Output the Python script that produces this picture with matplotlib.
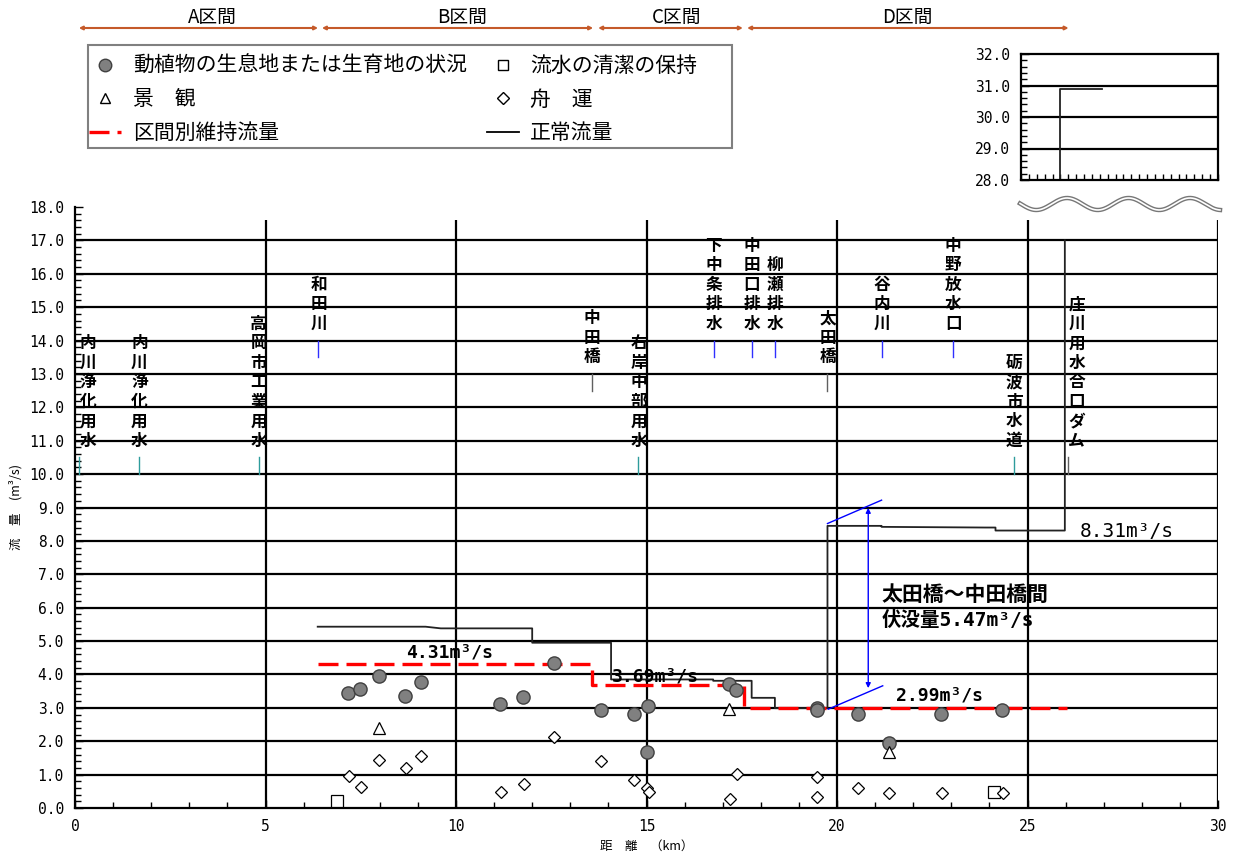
import numpy as np
import matplotlib.pyplot as plt
from matplotlib.lines import Line2D
from matplotlib.patches import Rectangle
from matplotlib.ticker import MultipleLocator, FormatStrFormatter

plt.rcParams['font.family'] = ['Noto Sans CJK JP', 'DejaVu Sans']
MONO = ['DejaVu Sans Mono', 'Noto Sans CJK JP']

# 区間
sec_names = ['A区間', 'B区間', 'C区間', 'D区間']
sec_start = [0.1, 6.48, 13.73, 17.64]
sec_end = [6.38, 13.6, 17.53, 26.08]
sec_label_x = [3.6, 10.16, 15.8, 21.84]

# 正常流量
nf_km = [6.37, 9.2, 9.6, 12.0, 12.0, 14.07, 14.07, 16.75, 16.75, 17.76, 17.76,
         18.37, 18.37, 19.75, 19.75, 21.17, 21.17, 23.9, 24.16, 24.16, 25.98, 25.98]
nf_q = [5.43, 5.43, 5.38, 5.38, 4.95, 4.95, 3.85, 3.85, 3.81, 3.81, 3.30,
        3.30, 2.99, 2.99, 8.45, 8.45, 8.42, 8.40, 8.40, 8.31, 8.31, 17.0]
nf_top_km = [26.0, 26.0, 27.05]
nf_top_q = [28.0, 30.9, 30.9]

# 区間別維持流量
mf_km = [6.37, 13.58, 13.58, 17.55, 17.55, 26.03]
mf_q = [4.31, 4.31, 3.69, 3.69, 2.99, 2.99]

# 動植物の生息地または生育地の状況
eco_km = [7.17, 7.48, 7.99, 8.66, 9.07, 11.15, 11.77, 12.57, 13.81, 14.67, 15.05,
          15.0, 17.17, 17.34, 19.47, 19.47, 20.55, 21.36, 22.74, 24.33]
eco_q = [3.44, 3.55, 3.94, 3.35, 3.76, 3.12, 3.31, 4.35, 2.94, 2.82, 3.04,
         1.67, 3.70, 3.53, 2.99, 2.95, 2.83, 1.94, 2.83, 2.95]
# 景観
view_km = [7.99, 17.17, 21.36]
view_q = [2.39, 2.98, 1.69]
# 舟運
boat_km = [7.19, 7.5, 7.99, 8.68, 9.08, 11.17, 11.79, 12.58, 13.81, 14.67, 15.0,
           15.07, 17.19, 17.37, 19.47, 19.47, 20.56, 21.36, 22.75, 24.35]
boat_q = [0.96, 0.62, 1.45, 1.21, 1.56, 0.47, 0.73, 2.12, 1.42, 0.84, 0.61,
          0.47, 0.26, 1.01, 0.92, 0.34, 0.59, 0.44, 0.44, 0.44]
# 流水の清潔の保持
clean_km = [6.87, 24.13]
clean_q = [0.22, 0.49]

# 地点
st_names = ['内川浄化用水', '内川浄化用水', '高岡市工業用水', '和田川', '中田橋', '右岸中部用水',
            '下中条排水', '中田口排水', '柳瀬排水', '太田橋', '谷内川', '中野放水口',
            '砺波市水道', '庄川用水合口ダム']
st_km = [0.1, 1.69, 4.82, 6.39, 13.56, 14.79, 16.77, 17.76, 18.37, 19.75, 21.17,
         23.05, 24.65, 26.05]
st_base = [10.0, 10.0, 10.0, 13.5, 12.5, 10.0, 13.5, 13.5, 13.5, 12.5, 13.5, 13.5, 10.0, 10.0]
st_kind = ['w', 'w', 'w', 'r', 'b', 'w', 'r', 'r', 'r', 'b', 'r', 'r', 'w', 'b']
st_dx = [0.24, 0, 0, 0, 0, 0, 0, 0, 0, 0, 0, 0, 0, 0.24]
kind_col = {'w': '#2e9c9c', 'r': '#3030ff', 'b': '#606060'}

flow_labels = ['4.31m³/s', '3.69m³/s', '2.99m³/s']
flow_label_km = [9.84, 15.22, 22.7]
flow_label_q = [4.67, 3.95, 3.38]

W, H = 1233, 857
fig = plt.figure(figsize=(W / 100, H / 100), dpi=100)
ax = fig.add_axes([75 / W, 49 / H, 1143 / W, 601 / H])

ax.set_xlim(0, 30)
ax.set_ylim(0, 18)
for s in ['top', 'right']:
    ax.spines[s].set_visible(False)
for s in ['left', 'bottom']:
    ax.spines[s].set_linewidth(1.6)

ax.hlines(np.arange(1, 18), 0, 30, color='black', lw=1.6, zorder=1)
ax.vlines([5, 10, 15, 20, 25, 30], 0, 17.6, color='black', lw=1.6, zorder=1)

ax.yaxis.set_major_locator(MultipleLocator(1))
ax.yaxis.set_minor_locator(MultipleLocator(0.2))
ax.yaxis.set_major_formatter(FormatStrFormatter('%.1f'))
ax.xaxis.set_major_locator(MultipleLocator(5))
ax.xaxis.set_minor_locator(MultipleLocator(1))
ax.tick_params(which='both', direction='in', width=1)
ax.tick_params(which='major', length=6, labelsize=10.5, pad=8)
ax.tick_params(which='minor', length=4)
for lb in ax.get_yticklabels() + ax.get_xticklabels():
    lb.set_family(MONO)

ax.set_ylabel('流　量　(m³/s)', fontsize=9)
ax.yaxis.set_label_coords(-0.046, 0.5)
ax.set_xlabel('距　離　（km）', fontsize=9, labelpad=4)

# lines
ax.plot(nf_km, nf_q, color='#222222', lw=1.3, zorder=3)
ax.plot(mf_km, mf_q, color='red', lw=2.4, dashes=(6.0, 2.4), zorder=3)

# points
ax.plot(eco_km, eco_q, ls='none', marker='o', ms=9.5, mfc='#808080', mec='#404040', mew=1, zorder=5)
ax.plot(view_km, view_q, ls='none', marker='^', ms=9, mfc='white', mec='black', mew=0.9, zorder=5)
ax.plot(boat_km, boat_q, ls='none', marker='D', ms=6.5, mfc='white', mec='black', mew=0.9, zorder=5)
ax.plot(clean_km, clean_q, ls='none', marker='s', ms=8, mfc='white', mec='black', mew=0.9, zorder=4)

# station marks & vertical labels
for name, x, base, kind, dx in zip(st_names, st_km, st_base, st_kind, st_dx):
    ax.plot([x, x], [base, base + 0.5], color=kind_col[kind], lw=1, zorder=4)
    for i, ch in enumerate(name[::-1]):
        ax.text(x + dx, base + 1.0 + i * 0.584, ch, ha='center', va='center',
                fontsize=12, fontweight='bold', zorder=6)

# flow labels
for t, x, y in zip(flow_labels, flow_label_km, flow_label_q):
    ax.text(x, y, t, ha='center', va='center', fontsize=13, fontweight='bold', family=MONO, zorder=6)
ax.text(26.38, 8.29, '8.31m³/s', ha='left', va='center', fontsize=14, family=MONO, zorder=6)
ax.text(21.18, 6.40, '太田橋～中田橋間', ha='left', va='center', fontsize=15, fontweight='bold', zorder=6)
ax.text(21.18, 5.63, '伏没量5.47m³/s', ha='left', va='center', fontsize=14, fontweight='bold',
        family=MONO, zorder=6)

# 伏没量 annotation
ax.annotate('', xy=(20.82, 3.59), xytext=(20.82, 8.99),
            arrowprops=dict(arrowstyle='<|-|>', color='blue', lw=1, mutation_scale=7,
                            shrinkA=0, shrinkB=0), zorder=4)
ax.plot([19.75, 21.17], [8.52, 9.22], color='blue', lw=1, zorder=4)
ax.plot([19.77, 21.2], [2.96, 3.66], color='blue', lw=1, zorder=4)

# section arrows at top
arrow_y = 1 - 28 / H
for name, a, b, lx in zip(sec_names, sec_start, sec_end, sec_label_x):
    ax.annotate('', xy=(b, arrow_y), xytext=(a, arrow_y),
                xycoords=('data', 'figure fraction'), textcoords=('data', 'figure fraction'),
                arrowprops=dict(arrowstyle='<|-|>', color='#c55a2a', lw=1.5, mutation_scale=5,
                                shrinkA=0, shrinkB=0), annotation_clip=False)
    ax.annotate(name, xy=(lx, 1 - 17 / H), xycoords=('data', 'figure fraction'),
                ha='center', va='center', fontsize=13.5, annotation_clip=False)

# inset (upper part)
ax2 = fig.add_axes([1021 / W, (H - 180) / H, 197 / W, 126 / H])
ax2.set_xlim(25, 30)
ax2.set_ylim(28, 32)
for s in ax2.spines.values():
    s.set_linewidth(1.6)
ax2.hlines([29, 30, 31], 25, 30, color='black', lw=1.6)
ax2.plot(nf_top_km, nf_top_q, color='#222222', lw=1.3)
ax2.yaxis.set_major_locator(MultipleLocator(1))
ax2.yaxis.set_minor_locator(MultipleLocator(0.2))
ax2.yaxis.set_major_formatter(FormatStrFormatter('%.1f'))
ax2.set_xticks([])
ax2.xaxis.set_minor_locator(MultipleLocator(0.2))
ax2.tick_params(which='both', direction='in', width=1)
ax2.tick_params(which='major', length=6, labelsize=10.5, pad=8)
ax2.tick_params(which='minor', length=4)
for lb in ax2.get_yticklabels():
    lb.set_family(MONO)

# break mark
wx = np.linspace(1020, 1220, 300)
wy = 204 - 6 * np.cos(2 * np.pi * (wx - 1067) / 61.5)
for c, lw in [('#777777', 3.2), ('white', 1.2)]:
    fig.add_artist(Line2D(wx / W, 1 - wy / H, transform=fig.transFigure, color=c, lw=lw))

# legend
h_eco = Line2D([], [], ls='none', marker='o', ms=9, mfc='#808080', mec='#404040')
h_view = Line2D([], [], ls='none', marker='^', ms=7, mfc='white', mec='black')
h_red = Line2D([], [], color='red', lw=2.4, dashes=(6.0, 2.4))
h_clean = Line2D([], [], ls='none', marker='s', ms=7, mfc='white', mec='black')
h_boat = Line2D([], [], ls='none', marker='D', ms=6, mfc='white', mec='black')
h_nf = Line2D([], [], color='black', lw=1.3)
fig.legend([h_eco, h_view, h_red, h_clean, h_boat, h_nf],
           ['動植物の生息地または生育地の状況', '景　観', '区間別維持流量',
            '流水の清潔の保持', '舟　運', '正常流量'],
           ncol=2, loc='upper left', bbox_to_anchor=(89 / W, 1 - 55 / H),
           frameon=False, fontsize=15, handlelength=1.55, handletextpad=0.55,
           columnspacing=0.95, labelspacing=0.55, borderpad=0, borderaxespad=0)
fig.add_artist(Rectangle((88 / W, 1 - 148 / H), 644 / W, 103 / H, transform=fig.transFigure,
                         fill=False, edgecolor='#808080', lw=1.5))

fig.savefig('out.png', dpi=100)
